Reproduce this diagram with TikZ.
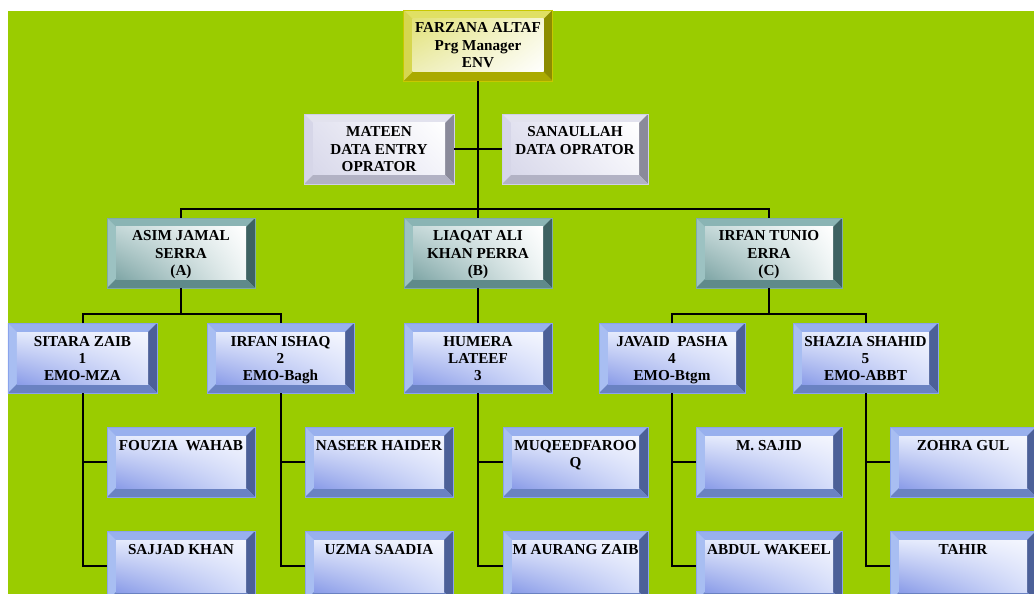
\documentclass[tikz,border=0pt]{standalone}
\usepackage{fontspec}
\setmainfont{Liberation Serif}
\usetikzlibrary{shadings}
% colour sets: Y yellow, G grey, T teal, B blue
\definecolor{bg}{HTML}{9ACC00}
\definecolor{Ytop}{HTML}{E0E064}\definecolor{Yleft}{HTML}{D6D650}\definecolor{Yright}{HTML}{8C8C00}\definecolor{Ybot}{HTML}{AAAA00}
\definecolor{Yul}{HTML}{E2E278}\definecolor{Yur}{HTML}{F6F6D8}\definecolor{Yll}{HTML}{EEEEB8}\definecolor{Ylr}{HTML}{FFFFFF}\definecolor{Yborder}{HTML}{C8C800}
\definecolor{Gtop}{HTML}{E2E2EE}\definecolor{Gleft}{HTML}{D6D6E8}\definecolor{Gright}{HTML}{8A8A9A}\definecolor{Gbot}{HTML}{B2B2C4}
\definecolor{Gul}{HTML}{E2E2F0}\definecolor{Gur}{HTML}{FFFFFF}\definecolor{Gll}{HTML}{D8D8EA}\definecolor{Glr}{HTML}{F4F4FA}\definecolor{Gborder}{HTML}{D0D0E8}
\definecolor{Ttop}{HTML}{8AB4B4}\definecolor{Tleft}{HTML}{9CC2C2}\definecolor{Tright}{HTML}{3E6262}\definecolor{Tbot}{HTML}{5F8A8A}
\definecolor{Tul}{HTML}{C4D8D8}\definecolor{Tur}{HTML}{FFFFFF}\definecolor{Tll}{HTML}{7FA6A6}\definecolor{Tlr}{HTML}{EEF4F4}\definecolor{Tborder}{HTML}{7FAAAA}
\definecolor{Btop}{HTML}{98B0EE}\definecolor{Bleft}{HTML}{A8BEF2}\definecolor{Bright}{HTML}{4C6098}\definecolor{Bbot}{HTML}{6A82C2}
\definecolor{Bul}{HTML}{E4EAFC}\definecolor{Bur}{HTML}{F4F6FE}\definecolor{Bll}{HTML}{8A9CE8}\definecolor{Blr}{HTML}{D6DEFA}\definecolor{Bborder}{HTML}{8AA4EC}
\tikzset{
  bevel/.style={rectangle, inner sep=0pt, outer sep=0pt, draw=#1border, line width=0.8bp,
    font=\bfseries\fontsize{15.2bp}{17.2bp}\selectfont, text=black,
    path picture={
      \path (path picture bounding box.south west) coordinate (bvA)
            (path picture bounding box.north east) coordinate (bvC);
      \path ([shift={(9bp,9bp)}]bvA) coordinate (bvI)
            ([shift={(-9bp,-9bp)}]bvC) coordinate (bvJ);
      \fill[#1top] (bvA) rectangle (bvC);
      \fill[#1left] (bvA) -- (bvA |- bvC) -- (bvI |- bvJ) -- (bvI) -- cycle;
      \fill[#1right] (bvC) -- (bvC |- bvA) -- (bvJ |- bvI) -- (bvJ) -- cycle;
      \fill[#1bot] (bvA) -- (bvI) -- (bvJ |- bvI) -- (bvC |- bvA) -- cycle;
      \shade[upper left=#1ul, upper right=#1ur, lower left=#1ll, lower right=#1lr] (bvI) rectangle (bvJ);
    }},
  yelbox/.style={bevel=Y},
  grybox/.style={bevel=G},
  tealbox/.style={bevel=T},
  bluebox/.style={bevel=B},
  link/.style={draw=black, line width=2bp},
}
\newcommand\orgbox[7]{%
  \node[#6] (#1) at (#2,#3) {\parbox[c][#5bp][t]{#4bp}{\centering\rule{0pt}{23bp}#7}};}
\begin{document}
\begin{tikzpicture}[x=1bp,y=-1bp]
\useasboundingbox (0,0) rectangle (1034,594);
\fill[white] (0,0) rectangle (1034,594);
\fill[bg] (8,11) rectangle (1034,594);
% level 0 / 1
\orgbox{farzana}{478}{45.5}{149}{71}{yelbox}{FARZANA ALTAF\\Prg Manager\\ENV}
\orgbox{mateen}{379}{149}{150}{70}{grybox}{MATEEN\\DATA ENTRY\\OPRATOR}
\orgbox{sanaullah}{575}{149}{146}{70}{grybox}{SANAULLAH\\DATA OPRATOR}
% level 2
\orgbox{asim}{181}{253}{148}{70}{tealbox}{ASIM JAMAL\\SERRA\\(A)}
\orgbox{liaqat}{478}{253}{148}{70}{tealbox}{LIAQAT ALI\\KHAN PERRA\\(B)}
\orgbox{irfant}{769}{253}{146}{70}{tealbox}{IRFAN TUNIO\\ERRA\\(C)}
% level 3
\orgbox{sitara}{82.5}{358}{149}{70}{bluebox}{SITARA ZAIB\\1\\EMO-MZA}
\orgbox{irfani}{280.5}{358}{147}{70}{bluebox}{IRFAN ISHAQ\\2\\EMO-Bagh}
\orgbox{humera}{478}{358}{148}{70}{bluebox}{HUMERA\\LATEEF\\3}
\orgbox{javaid}{672}{358}{146}{70}{bluebox}{JAVAID\ \ PASHA\\4\\EMO-Btgm}
\orgbox{shazia}{865.5}{358}{145}{70}{bluebox}{SHAZIA SHAHID\\5\\EMO-ABBT}
% level 4
\orgbox{fouzia}{181}{462}{148}{70}{bluebox}{FOUZIA\ \ WAHAB}
\orgbox{sajjad}{181}{566}{148}{70}{bluebox}{SAJJAD KHAN}
\orgbox{naseer}{379}{462}{148}{70}{bluebox}{NASEER HAIDER}
\orgbox{uzma}{379}{566}{148}{70}{bluebox}{UZMA SAADIA}
\orgbox{muqeed}{575.5}{462}{145}{70}{bluebox}{MUQEEDFAROO\\Q}
\orgbox{aurang}{575.5}{566}{145}{70}{bluebox}{M AURANG ZAIB}
\orgbox{sajid}{769}{462}{146}{70}{bluebox}{M. SAJID}
\orgbox{abdul}{769}{566}{146}{70}{bluebox}{ABDUL WAKEEL}
\orgbox{zohra}{963}{462}{146}{70}{bluebox}{ZOHRA GUL}
\orgbox{tahir}{963}{566}{146}{70}{bluebox}{TAHIR}
% bus coordinates
\coordinate (b1) at (478,209);
\coordinate (b2a) at (181,314);
\coordinate (b2c) at (769,314);
% connectors
\path[link] (farzana.south) -- (liaqat.north);
\path[link] (mateen.east) -- (sanaullah.west);
\path[link] (asim.north) |- (b1) -| (irfant.north);
\path[link] (asim.south) -- (b2a);
\path[link] (sitara.north) |- (b2a) -| (irfani.north);
\path[link] (liaqat.south) -- (humera.north);
\path[link] (irfant.south) -- (b2c);
\path[link] (javaid.north) |- (b2c) -| (shazia.north);
\path[link] (sitara.south) |- (fouzia.west);
\path[link] (sitara.south) |- (sajjad.west);
\path[link] (irfani.south) |- (naseer.west);
\path[link] (irfani.south) |- (uzma.west);
\path[link] (humera.south) |- (muqeed.west);
\path[link] (humera.south) |- (aurang.west);
\path[link] (javaid.south) |- (sajid.west);
\path[link] (javaid.south) |- (abdul.west);
\path[link] (shazia.south) |- (zohra.west);
\path[link] (shazia.south) |- (tahir.west);
\end{tikzpicture}
\end{document}
